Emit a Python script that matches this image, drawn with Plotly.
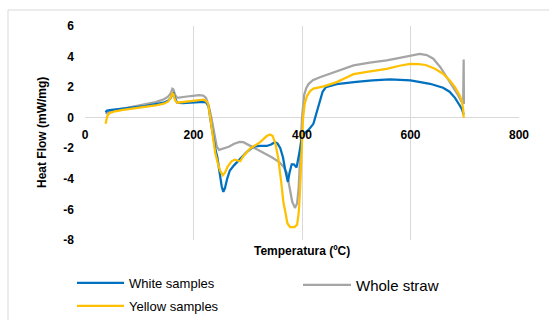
import plotly.graph_objects as go

# ---- data ----
temp_white = [38, 40, 45, 55, 70, 90, 110, 130, 145, 153, 158, 161, 163, 166, 170, 180, 195, 210, 218, 224, 228,
              232, 236, 240, 244, 248, 252, 255, 258, 262, 267, 275, 286, 298, 310, 322, 335, 343, 350, 355, 360,
              365, 369, 372, 374, 377, 381, 385, 390, 394, 400, 405, 412, 421, 427, 433, 438, 444, 464, 500, 530,
              562, 600, 636, 660, 672, 682, 690, 695, 698]
heat_white = [0.35, 0.45, 0.5, 0.55, 0.62, 0.68, 0.76, 0.86, 0.98, 1.1, 1.28, 1.55, 1.65, 1.25, 0.98, 0.96, 0.98,
              1.03, 1.04, 0.98, 0.7, -0.3, -1.3, -2.0, -2.6, -3.5, -4.5, -4.85, -4.6, -4.0, -3.45, -3.1, -2.7,
              -2.25, -1.9, -1.85, -1.85, -1.75, -1.6, -1.7, -2.0, -2.6, -3.4, -4.0, -4.2, -3.6, -3.05, -3.05,
              -3.25, -2.5, -1.3, -1.0, -0.8, -0.4, 0.3, 1.13, 1.7, 2.0, 2.2, 2.35, 2.45, 2.5, 2.44, 2.22, 1.96,
              1.7, 1.3, 0.85, 0.55, 0.2]

temp_yellow = [38, 39, 41, 45, 55, 70, 90, 110, 130, 145, 153, 158, 161, 163, 166, 170, 180, 195, 210, 218, 223,
               227, 231, 235, 240, 245, 249, 254, 258, 263, 270, 276, 282, 286, 292, 304, 323, 335, 341, 346, 351,
               356, 361, 366, 369, 373, 378, 386, 391, 394, 396, 398, 400, 402, 405, 409, 415, 421, 440, 464, 480,
               495, 520, 556, 580, 599, 615, 628, 645, 660, 672, 682, 690, 694, 697, 698]
heat_yellow = [-0.4, -0.2, 0.1, 0.3, 0.42, 0.52, 0.6, 0.7, 0.8, 0.92, 1.05, 1.3, 1.6, 1.55, 1.15, 0.98, 1.02, 1.08,
               1.15, 1.18, 1.1, 0.9, 0.0, -1.2, -2.3, -3.0, -3.45, -3.77, -3.6, -3.2, -2.85, -2.75, -2.8, -2.85,
               -2.5, -2.03, -1.6, -1.2, -1.1, -1.2, -1.7, -2.6, -4.0, -5.6, -6.1, -6.9, -7.15, -7.15, -7.0, -6.2,
               -5.0, -3.0, -1.5, 0.0, 0.9, 1.4, 1.75, 1.9, 2.05, 2.33, 2.6, 2.85, 3.0, 3.2, 3.4, 3.52, 3.5, 3.45,
               3.2, 2.88, 2.45, 2.0, 1.5, 1.15, 0.6, 0.0]

temp_straw = [38, 42, 50, 70, 90, 110, 130, 145, 153, 158, 161, 163, 166, 170, 180, 195, 210, 218, 223, 228, 233,
              238, 243, 247, 252, 258, 265, 275, 285, 292, 300, 315, 330, 345, 358, 366, 372, 377, 382, 387, 391,
              394, 397, 400, 404, 408, 412, 420, 433, 450, 470, 495, 525, 556, 580, 599, 617, 630, 642, 655, 667,
              678, 688, 694, 697, 698, 698.5]
heat_straw = [0.25, 0.35, 0.45, 0.6, 0.74, 0.86, 1.02, 1.2, 1.38, 1.6, 1.9, 1.85, 1.5, 1.3, 1.33, 1.42, 1.47, 1.45,
              1.3, 0.8, 0.0, -1.0, -1.9, -2.1, -2.05, -2.0, -1.9, -1.7, -1.58, -1.6, -1.75, -2.05, -2.35, -2.6,
              -2.9, -3.2, -3.6, -4.6, -5.5, -5.9, -5.6, -4.5, -2.2, 0.0, 1.5, 1.95, 2.2, 2.45, 2.65, 2.85, 3.1,
              3.42, 3.6, 3.75, 3.92, 4.07, 4.18, 4.1, 3.86, 3.3, 2.65, 2.05, 1.46, 1.05, 0.9, 3.8, 0.9]

x_ticks = [0, 200, 400, 600, 800]
y_ticks = [-8, -6, -4, -2, 0, 2, 4, 6]

BLUE = "#0070C0"
YELLOW = "#FFC000"
GRAY = "#A5A5A5"
FONT = "Arial, Liberation Sans, sans-serif"

fig = go.Figure()
fig.add_trace(go.Scatter(x=temp_straw, y=heat_straw, mode="lines", name="Whole straw",
                         line=dict(color=GRAY, width=2.25), legend="legend2", showlegend=True))
fig.add_trace(go.Scatter(x=temp_white, y=heat_white, mode="lines", name="White samples",
                         line=dict(color=BLUE, width=2.25), legend="legend", showlegend=True))
fig.add_trace(go.Scatter(x=temp_yellow, y=heat_yellow, mode="lines", name="Yellow samples",
                         line=dict(color=YELLOW, width=2.25), legend="legend3", showlegend=True))

L, R, T, B = 85, 30, 26, 80
W, H = 549, 320
pw, ph = W - L - R, H - T - B


def px2x(px):
    return (px - L) / pw


def py2y(py):
    return (H - B - py) / ph


def cx(px):
    return px / W


def cy(py):
    return (H - py) / H


fig.update_layout(
    width=W, height=H,
    margin=dict(l=L, r=R, t=T, b=B, autoexpand=False),
    showlegend=True,
    paper_bgcolor="white", plot_bgcolor="white",
    font=dict(family=FONT, color="#000000"),
    legend=dict(x=cx(72), y=cy(283), xref="container", yref="container", xanchor="left", yanchor="middle",
                bgcolor="rgba(0,0,0,0)", font=dict(size=13, family=FONT), itemwidth=47),
    legend2=dict(x=cx(298), y=cy(285), xref="container", yref="container", xanchor="left", yanchor="middle",
                 bgcolor="rgba(0,0,0,0)", font=dict(size=15, family=FONT), itemwidth=48),
    legend3=dict(x=cx(72), y=cy(306), xref="container", yref="container", xanchor="left", yanchor="middle",
                 bgcolor="rgba(0,0,0,0)", font=dict(size=13, family=FONT), itemwidth=47),
    xaxis=dict(range=[0, 800], tickvals=x_ticks, ticktext=[str(v) for v in x_ticks],
               showgrid=True, gridcolor="#D9D9D9", gridwidth=1, zeroline=False,
               showline=False, ticks="", anchor="free", position=py2y(117.3),
               tickfont=dict(size=12, family=FONT, weight="bold"), ticklabelstandoff=9),
    yaxis=dict(range=[-8, 6], tickvals=y_ticks, ticktext=[str(v) for v in y_ticks],
               showgrid=False, zeroline=True, zerolinecolor="#D9D9D9", zerolinewidth=1,
               showline=False, ticks="",
               tickfont=dict(size=12, family=FONT, weight="bold"), ticklabelstandoff=10),
    annotations=[
        dict(text="<b>Temperatura (ºC)</b>", x=0.5, y=py2y(251), xref="paper", yref="paper",
             showarrow=False, font=dict(size=12, family=FONT), xanchor="center", yanchor="middle"),
        dict(text="<b>Heat Flow (mW/mg)</b>", x=px2x(42), y=py2y(133), xref="paper", yref="paper",
             showarrow=False, font=dict(size=12, family=FONT), textangle=-90,
             xanchor="center", yanchor="middle"),
    ],
    shapes=[dict(type="rect", xref="paper", yref="paper", x0=px2x(8), x1=px2x(560), y0=py2y(10),
                 y1=py2y(330), line=dict(color="#D9D9D9", width=1), fillcolor="rgba(0,0,0,0)", layer="below")],
)

fig.write_html("out.html")
